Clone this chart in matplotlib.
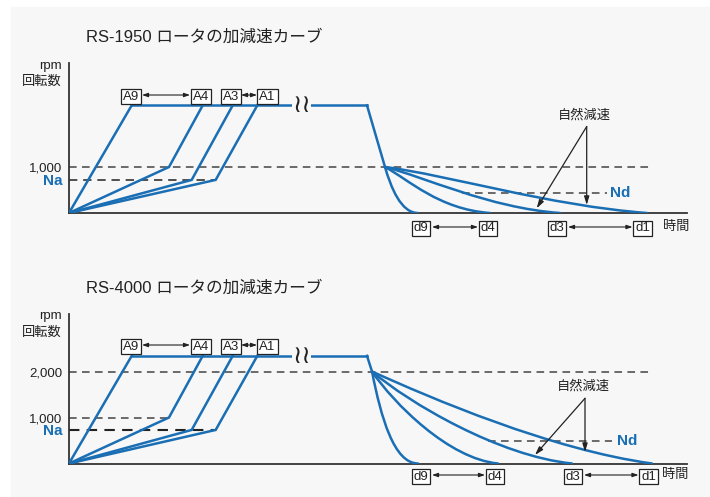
import matplotlib
matplotlib.use("Agg")
import matplotlib.pyplot as plt
from matplotlib.path import Path
from matplotlib.patches import PathPatch, Rectangle

plt.rcParams['font.family'] = ['Liberation Sans', 'Noto Sans CJK JP', 'DejaVu Sans']

BLUE = '#1a6eb4'
DARK = '#333333'
BG = '#f7f7f7'

# ---- data (time in arbitrary units, speed in rpm) ----
titles = ['RS-1950 ロータの加減速カーブ', 'RS-4000 ロータの加減速カーブ']
accel_labels = ['A9', 'A4', 'A3', 'A1']
decel_labels = ['d9', 'd4', 'd3', 'd1']

top_speed = 2340
plateau_end = 298
na_levels = [720, 730]
nd_levels = [428, 489]

# acceleration profiles (same for both rotors)
acc_x = [[0, 62.7], [0, 100, 133.7], [0, 122.7, 163.7], [0, 146.7, 188.3]]
acc_y_top = [[0, top_speed], [0, 1000, top_speed], [0, 720, top_speed], [0, 720, top_speed]]
acc_y_bot = [[0, top_speed], [0, 1000, top_speed], [0, 730, top_speed], [0, 730, top_speed]]

# deceleration: linear part then free-run curves (cubic bezier control points)
dec_lin_top = ([plateau_end, 316], [top_speed, 1000])
dec_lin_bot = ([plateau_end, 303], [top_speed, 2000])
dec_curves_top = [
    [(316, 1000), (322, 551), (332, 0), (349, 0)],
    [(316, 1000), (340, 720), (370, 80), (421, 0)],
    [(316, 1000), (355, 790), (420, 110), (491, 0)],
    [(316, 1000), (378, 830), (480, 160), (578, 0)],
]
dec_curves_bot = [
    [(303, 2000), (312, 1000), (325, 0), (349, 0)],
    [(303, 2000), (325, 1300), (380, 100), (429, 0)],
    [(303, 2000), (340, 1320), (430, 160), (503, 0)],
    [(303, 2000), (362, 1420), (482, 300), (583, 0)],
]

# dashed reference lines: (level, x_start, x_end, colour, width)
ref_top = [(1000, 0, 581, '#444444', 1.1), (720, 0, 146.7, '#333333', 1.2),
           (428, 393, 538, '#444444', 1.1)]
ref_bot = [(2000, 0, 581, '#444444', 1.1), (1000, 0, 100, '#444444', 1.1),
           (730, 0, 146.7, '#222222', 1.5), (489, 419, 543, '#444444', 1.1)]

yticks_top = [720, 1000]
ytick_labels_top = ['Na', '1,000']
yticks_bot = [730, 1000, 2000]
ytick_labels_bot = ['Na', '1,000', '2,000']

acc_box_x = [62, 132, 162, 198.5]
dec_box_x_top = [352, 419, 488, 573.5]
dec_box_x_bot = [352, 426, 504, 579.5]

W, H = 710, 497
fig = plt.figure(figsize=(W / 100, H / 100), dpi=100)
fig.patch.set_facecolor('white')
fig.patches.append(Rectangle((11 / W, 0), (W - 11) / W, (H - 7) / H,
                             transform=fig.transFigure, color=BG, zorder=-10))

PX_PER_RPM = 0.046
XMAX = 618
YMAX = 150 / PX_PER_RPM


def make_ax(bottom_px):
    ax = fig.add_axes([69 / W, (H - bottom_px) / H, XMAX / W, 150 / H])
    ax.set_xlim(0, XMAX)
    ax.set_ylim(0, YMAX)
    ax.patch.set_alpha(0)
    for s in ['top', 'right']:
        ax.spines[s].set_visible(False)
    for s in ['left', 'bottom']:
        ax.spines[s].set_color(DARK)
        ax.spines[s].set_linewidth(1.3)
    ax.set_xticks([])
    return ax


def bezier(ax, pts):
    codes = [Path.MOVETO, Path.CURVE4, Path.CURVE4, Path.CURVE4]
    ax.add_patch(PathPatch(Path(pts, codes), fill=False, edgecolor=BLUE,
                           lw=1.8, capstyle='round', zorder=3))


def dbl_arrow(ax, x0, x1, y):
    ax.annotate('', xy=(x1, y), xytext=(x0, y), annotation_clip=False,
                arrowprops=dict(arrowstyle='<|-|>,head_length=0.35,head_width=0.12',
                                color='#222222', lw=0.8, shrinkA=0, shrinkB=0))


def box(ax, x, y, s):
    ax.text(x, y, s, ha='center', va='center_baseline', fontsize=9.5, color='#222222',
            clip_on=False, zorder=5,
            bbox=dict(boxstyle='square,pad=0.15', fc='white', ec='#222222', lw=0.9))


def draw(ax, title, acc_y, dec_lin, curves, refs, nd, ticks, tlabels, dbx,
         box_y, dbox_y, arr_orig, arr_tips, natural_y, time_x):
    # title and axis labels
    ax.text(-69 + 86, YMAX + 26 / PX_PER_RPM, title, fontsize=12, color='#222222',
            ha='left', va='center', clip_on=False)
    ax.text(-7, YMAX - 3 / PX_PER_RPM, 'rpm', fontsize=9.5, color='#222222',
            ha='right', va='center', clip_on=False)
    ax.text(-7, YMAX - 19 / PX_PER_RPM, '回転数', fontsize=9.5, color='#222222',
            ha='right', va='center', clip_on=False)

    ax.set_yticks(ticks)
    ax.set_yticklabels(tlabels)
    ax.tick_params(axis='y', length=0, pad=5, labelsize=9.5, labelcolor='#222222')
    for lab in ax.get_yticklabels():
        if lab.get_text() == 'Na':
            lab.set_color(BLUE)
            lab.set_fontweight('bold')
            lab.set_fontsize(11)

    # reference lines
    for lvl, xa, xb, col, lw in refs:
        ax.plot([xa, xb], [lvl, lvl], ls=(0, (5, 3.5)), color=col, lw=lw, zorder=2)
    ax.text(nd[1], nd[0], 'Nd', color=BLUE, fontweight='bold', fontsize=11,
            ha='left', va='center')

    # acceleration
    for xs, ys in zip(acc_x, acc_y):
        ax.plot(xs, ys, color=BLUE, lw=1.8, solid_joinstyle='miter', zorder=3)
    ax.plot([acc_x[0][-1], plateau_end], [top_speed, top_speed], color=BLUE, lw=1.8, zorder=3)
    ax.plot(dec_lin[0], dec_lin[1], color=BLUE, lw=1.8, zorder=3)
    for c in curves:
        bezier(ax, c)

    # break mark
    ax.text(232.5, top_speed, '≀≀', fontsize=18, ha='center', va='center',
            family='DejaVu Sans', color='#222222', zorder=6,
            bbox=dict(boxstyle='square,pad=0.0', fc=BG, ec='none'))

    # accel labels
    for x, s in zip(acc_box_x, accel_labels):
        box(ax, x, box_y, s)
    dbl_arrow(ax, 73, 121, box_y)
    dbl_arrow(ax, 172, 188, box_y)

    # decel labels
    for x, s in zip(dbx, decel_labels):
        box(ax, x, dbox_y, s)
    dbl_arrow(ax, dbx[0] + 11, dbx[1] - 10, dbox_y)
    dbl_arrow(ax, dbx[2] + 11, dbx[3] - 10, dbox_y)
    ax.text(time_x, dbox_y, '時間', fontsize=9.5, color='#222222', ha='left',
            va='center', clip_on=False)

    # natural deceleration
    ax.text(arr_orig[0] - 2, natural_y, '自然減速', fontsize=9.5, color='#222222',
            ha='center', va='center')
    for tip in arr_tips:
        ax.annotate('', xy=tip, xytext=arr_orig,
                    arrowprops=dict(arrowstyle='-|>,head_length=0.5,head_width=0.15',
                                    color='#222222', lw=0.9, shrinkA=0, shrinkB=0))


ax1 = make_ax(213)
draw(ax1, titles[0], acc_y_top, dec_lin_top, dec_curves_top, ref_top,
     (nd_levels[0], 541), yticks_top, ytick_labels_top, dec_box_x_top,
     2565, -304, (517.7, 1880), [(467.7, 102), (517.7, 174)], 2130, 594)

ax2 = make_ax(463.5)
draw(ax2, titles[1], acc_y_bot, dec_lin_bot, dec_curves_bot, ref_bot,
     (nd_levels[1], 548), yticks_bot, ytick_labels_bot, dec_box_x_bot,
     2576, -250, (516, 1417), [(466, 185), (516, 250)], 1670, 593)

fig.savefig('out.png', dpi=100, facecolor=fig.get_facecolor())
